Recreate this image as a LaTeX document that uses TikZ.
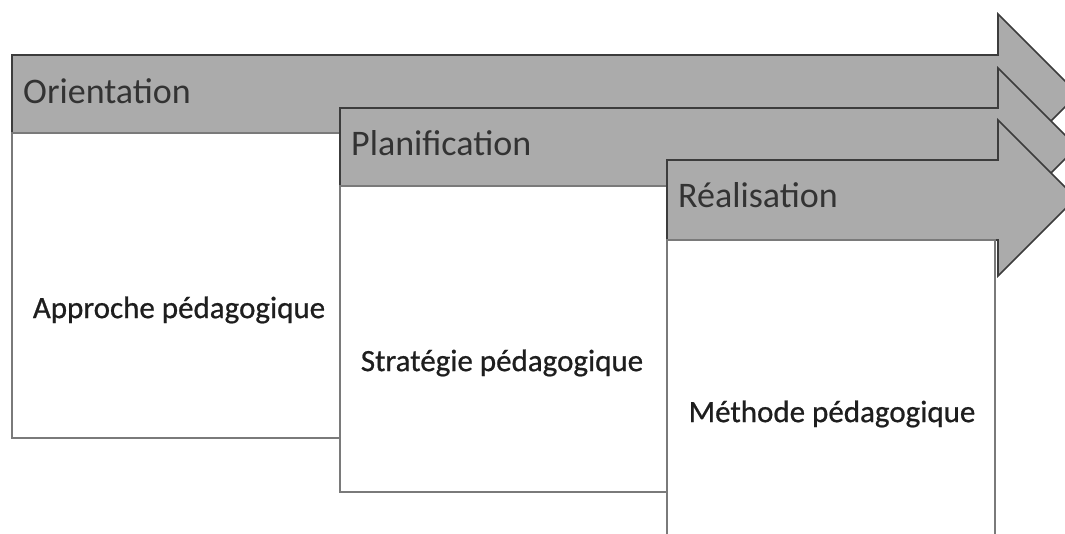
\documentclass[tikz,border=0pt]{standalone}
\usepackage{fontspec}
\setmainfont{Carlito}
\newfontfamily\panelfont[FakeBold=0.7]{Carlito}
\begin{document}
\begin{tikzpicture}[x=1pt,y=-1pt,
  phase/.style={fill=arrowgray,draw=edgegray,line width=1.6pt,line join=miter},
  panel/.style={fill=white,draw=boxgray,line width=1.3pt},
  phasetitle/.style={anchor=west,inner sep=0pt,text=titlegray,font=\fontsize{36}{40}\selectfont},
  paneltext/.style={inner sep=0pt,text=textdark,font=\panelfont\fontsize{31}{36}\selectfont}]
\definecolor{arrowgray}{HTML}{ABABAB}
\definecolor{edgegray}{HTML}{3C3C3C}
\definecolor{boxgray}{HTML}{7A7A7A}
\definecolor{titlegray}{HTML}{333333}
\definecolor{textdark}{HTML}{1E1E1E}
\useasboundingbox (0,0) rectangle (1065,534);
\clip (0,0) rectangle (1065,534);
% phase 1: orientation
\draw[phase] (12,55) -- (998,55) -- (998,14) -- (1078,94) -- (998,174) -- (998,133) -- (12,133) -- cycle;
\draw[panel] (12,133) rectangle (340,438);
\node[phasetitle] (orient) at (23,91) {Orientation};
\node[paneltext] (approche) at (179,310) {Approche pédagogique};
% phase 2: planification
\draw[phase] (340,108) -- (998,108) -- (998,68) -- (1077,147) -- (998,226) -- (998,186) -- (340,186) -- cycle;
\draw[panel] (340,186) rectangle (667,492);
\node[phasetitle] (plan) at (351,143) {Planification};
\node[paneltext] (strategie) at (502,363) {Stratégie pédagogique};
% phase 3: realisation
\draw[phase] (667,160) -- (998,160) -- (998,120) -- (1076,198) -- (998,276) -- (998,240) -- (667,240) -- cycle;
\draw[panel] (667,240) rectangle (995,545);
\node[phasetitle] (real) at (678,195) {Réalisation};
\node[paneltext] (methode) at (832,414) {Méthode pédagogique};
\end{tikzpicture}
\end{document}
